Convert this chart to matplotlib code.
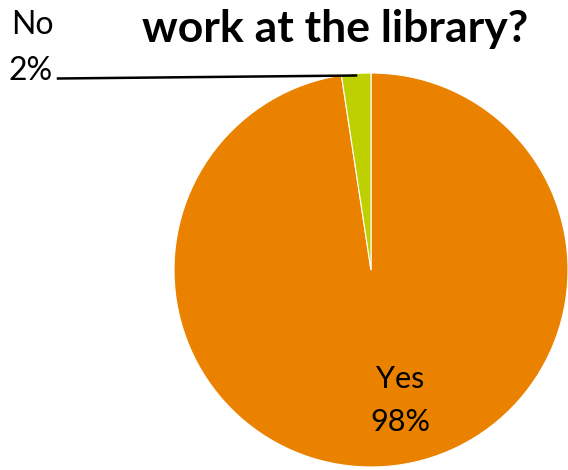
import matplotlib
matplotlib.use("Agg")
import matplotlib.pyplot as plt

categories = ["Yes", "No"]
values = [97.6, 2.4]
colors = ["#EA8200", "#BED000"]
title = "work at the library?"

W, H = 568, 470
fig = plt.figure(figsize=(W / 100, H / 100), dpi=100)
plt.rcParams['font.family'] = ['Lato', 'DejaVu Sans']

def px(x, y):
    return x / W, 1 - y / H

cx, cy, r = 371, 270, 197
ax = fig.add_axes([(cx - r) / W, (H - cy - r) / H, 2 * r / W, 2 * r / H])
wedges, _ = ax.pie(values, colors=colors, startangle=90, counterclock=False,
                   radius=1, wedgeprops=dict(edgecolor="white", linewidth=0.8))
ax.set_xlim(-1, 1)
ax.set_ylim(-1, 1)
ax.set_aspect("auto")
ax.axis("off")

fs = 22
# Yes label
fig.text(*px(400, 388), categories[0], ha="center", va="baseline", fontsize=fs)
fig.text(*px(400, 431), f"{round(values[0])}%", ha="center", va="baseline", fontsize=fs)
# No label
fig.text(*px(11, 34), categories[1], ha="left", va="baseline", fontsize=fs + 1)
fig.text(*px(9, 80), f"{round(values[1])}%", ha="left", va="baseline", fontsize=fs + 1)
# leader line
fig.add_artist(plt.Line2D([58 / W, 356 / W], [1 - 78.5 / H, 1 - 75.5 / H], color="black", linewidth=1.8))

fig.text(*px(335, 42), title, ha="center", va="baseline", fontsize=32, fontweight="bold")

fig.savefig("out.png", dpi=100)
